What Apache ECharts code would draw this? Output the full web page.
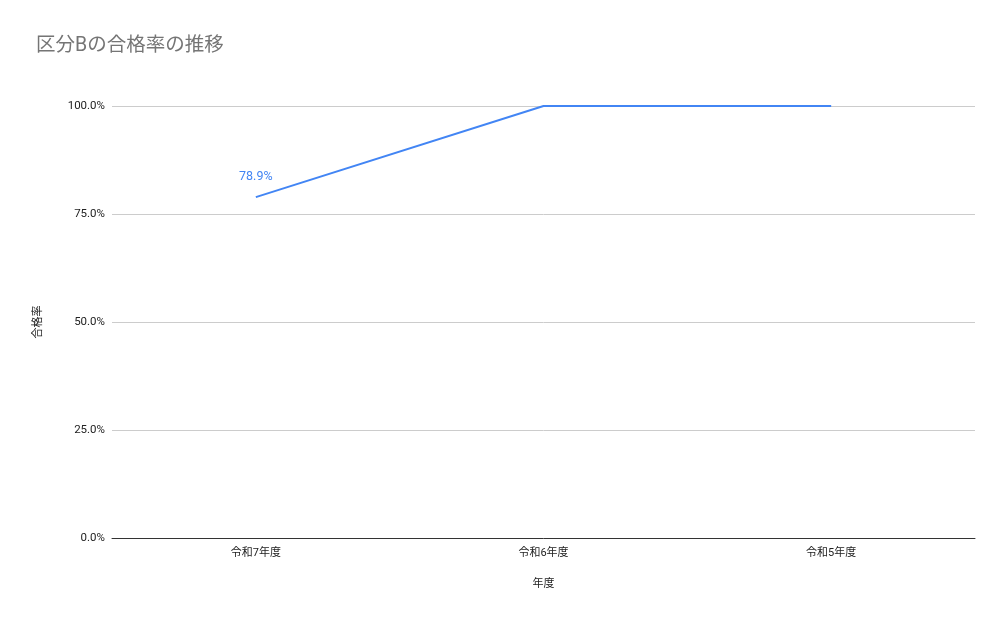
<!DOCTYPE html>
<html><head><meta charset="utf-8">
<script src="https://cdn.jsdelivr.net/npm/echarts@6/dist/echarts.min.js"></script>
<style>html,body{margin:0;padding:0;background:#fff}#c{width:1007px;height:622px}</style>
</head><body><div id="c"></div>
<script>
const categories = ['令和7年度', '令和6年度', '令和5年度'];
const passRate = [78.9, 100, 100];
const yTicks = [0, 25, 50, 75, 100];

const chart = echarts.init(document.getElementById('c'));
chart.setOption({
  animation: false,
  title: { text: '区分Bの合格率の推移', left: 31, top: 31,
    textStyle: { fontFamily: 'Roboto, "Noto Sans CJK JP", sans-serif', fontSize: 19.5, fontWeight: 'normal', color: '#757575' } },
  grid: { left: 112, right: 32, top: 106, bottom: 84 },
  xAxis: {
    type: 'category', data: categories, boundaryGap: true,
    name: '年度', nameLocation: 'middle', nameGap: 41,
    nameTextStyle: { fontFamily: 'Roboto, "Noto Sans CJK JP", sans-serif', fontSize: 11, color: '#222' },
    axisLine: { lineStyle: { color: '#333' } },
    axisTick: { show: false },
    axisLabel: { fontFamily: 'Roboto, "Noto Sans CJK JP", sans-serif', fontSize: 11, color: '#222', margin: 10 }
  },
  yAxis: {
    type: 'value', min: yTicks[0], max: yTicks[yTicks.length - 1], interval: 25,
    name: '合格率', nameLocation: 'middle', nameGap: 68, nameRotate: 90,
    nameTextStyle: { fontFamily: 'Roboto, "Noto Sans CJK JP", sans-serif', fontSize: 11, color: '#222' },
    axisLine: { show: false }, axisTick: { show: false },
    splitLine: { lineStyle: { color: '#ccc' } },
    axisLabel: { formatter: v => v.toFixed(1) + '%', fontFamily: 'Roboto, sans-serif', fontSize: 11.5, color: '#222', margin: 7 }
  },
  series: [{
    type: 'line', data: passRate.map((v, i) => i === 0 ? { value: v, label: { show: true } } : v),
    showSymbol: true, symbol: 'circle', symbolSize: 0,
    lineStyle: { color: '#4285f4', width: 2 },
    itemStyle: { color: '#4285f4' },
    label: { show: false, position: 'top', distance: 14, formatter: p => p.value.toFixed(1) + '%',
      color: '#4285f4', fontFamily: 'Roboto, sans-serif', fontSize: 12.5 }
  }]
});
</script></body></html>
